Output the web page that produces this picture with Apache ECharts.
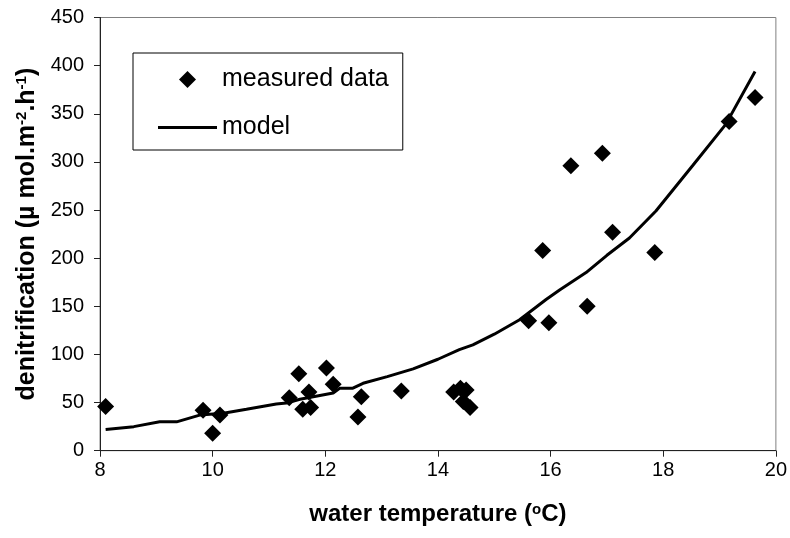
<!DOCTYPE html>
<html>
<head>
<meta charset="utf-8">
<script src="https://cdn.jsdelivr.net/npm/echarts@6/dist/echarts.min.js"></script>
<style>html,body{margin:0;padding:0;background:#fff}#c{width:790px;height:538px}</style>
</head>
<body>
<div id="c"></div>
<script>
// measured data
var measuredX = [8.1, 9.83, 10.0, 10.13, 11.36, 11.53, 11.6, 11.71, 11.74, 12.02, 12.14, 12.58, 12.64, 13.35, 14.28, 14.4, 14.45, 14.5, 14.57, 15.61, 15.86, 15.97, 16.36, 16.65, 16.92, 17.1, 17.85, 19.17, 19.63];
var measuredY = [46, 42, 18, 37, 55, 80, 43, 61, 45, 86, 69, 35, 56, 62, 61, 65, 51, 63, 45, 135, 208, 133, 296, 150, 309, 227, 206, 342, 367];
// model curve
var modelX = [8.1, 8.6, 9.06, 9.36, 9.77, 10.19, 10.6, 11.13, 11.31, 11.55, 12.14, 12.26, 12.49, 12.67, 13.1, 13.56, 14.0, 14.38, 14.62, 15.0, 15.45, 15.92, 16.16, 16.63, 17.0, 17.4, 17.87, 18.52, 19.11, 19.63];
var modelY = [22, 25, 30, 30, 37, 39, 43, 48.5, 49.5, 53.5, 60, 65, 65, 70, 77, 85, 95, 105, 110, 121, 136, 157, 167, 185, 203, 221, 249, 296, 339, 394];
// axes
var xMin = 8, xMax = 20, xStep = 2;
var yMin = 0, yMax = 450, yStep = 50;
var legendNames = ['measured data', 'model'];

var FONT = 'Liberation Sans';
var chart = echarts.init(document.getElementById('c'), null, {renderer: 'canvas'});
var scatterData = measuredX.map(function (x, i) { return [x, measuredY[i]]; });
var lineData = modelX.map(function (x, i) { return [x, modelY[i]]; });

// legend icons sized to the 59x17 legend box (degenerate end points keep the aspect)
var diamondIcon = 'path://M0,0L0,0M21,8.5L29.5,0L38,8.5L29.5,17ZM59,17L59,17';
var lineIcon = 'path://M0,0L0,0M0,7L59,7L59,10L0,10ZM59,17L59,17';

chart.setOption({
  animation: false,
  backgroundColor: '#fff',
  grid: {left: 100, right: 13, top: 17.5, bottom: 87.3, show: true, borderColor: '#808080', borderWidth: 1, backgroundColor: 'transparent'},
  legend: {
    orient: 'vertical', left: 133, top: 53,
    padding: [14, 14, 10, 25], itemGap: 23, itemWidth: 59, itemHeight: 17,
    borderColor: '#000', borderWidth: 1,
    itemStyle: {borderWidth: 0},
    textStyle: {fontFamily: FONT, fontSize: 25, lineHeight: 25, color: '#000'},
    data: [{name: legendNames[0], icon: diamondIcon}, {name: legendNames[1], icon: lineIcon}]
  },
  xAxis: {
    type: 'value', min: xMin, max: xMax, interval: xStep,
    axisLine: {lineStyle: {color: '#222', width: 1}},
    axisTick: {inside: false, length: 6, lineStyle: {color: '#222'}},
    splitLine: {show: false},
    axisLabel: {fontFamily: FONT, fontSize: 20, color: '#000', margin: 10},
    name: '{t|water temperature (}{s|o}{t|C)}', nameLocation: 'middle', nameGap: 52,
    nameTextStyle: {rich: {
      t: {fontFamily: FONT, fontSize: 24, fontWeight: 'bold', color: '#000'},
      s: {fontFamily: FONT, fontSize: 15, fontWeight: 'bold', color: '#000', verticalAlign: 'top', padding: [0, 0, 9, 0]}
    }}
  },
  yAxis: {
    type: 'value', min: yMin, max: yMax, interval: yStep,
    axisLine: {show: true, lineStyle: {color: '#222', width: 1}},
    axisTick: {show: true, inside: false, length: 6, lineStyle: {color: '#222'}},
    splitLine: {show: false},
    axisLabel: {fontFamily: FONT, fontSize: 20, color: '#000', margin: 16},
    name: '{t|denitrification (µ mol.m}{s|-2}{t|.h}{s|-1}{t|)}', nameLocation: 'middle', nameGap: 58,
    nameTextStyle: {rich: {
      t: {fontFamily: FONT, fontSize: 25, fontWeight: 'bold', color: '#000'},
      s: {fontFamily: FONT, fontSize: 15, fontWeight: 'bold', color: '#000', verticalAlign: 'top', padding: [0, 0, 10, 0]}
    }}
  },
  series: [
    {name: legendNames[0], type: 'scatter', symbol: 'diamond', symbolSize: 17, data: scatterData,
     itemStyle: {color: '#000', opacity: 1}, z: 3},
    {name: legendNames[1], type: 'line', data: lineData, symbol: 'none', smooth: false,
     lineStyle: {color: '#000', width: 3}, itemStyle: {color: '#000'}, z: 2}
  ]
});
</script>
</body>
</html>
